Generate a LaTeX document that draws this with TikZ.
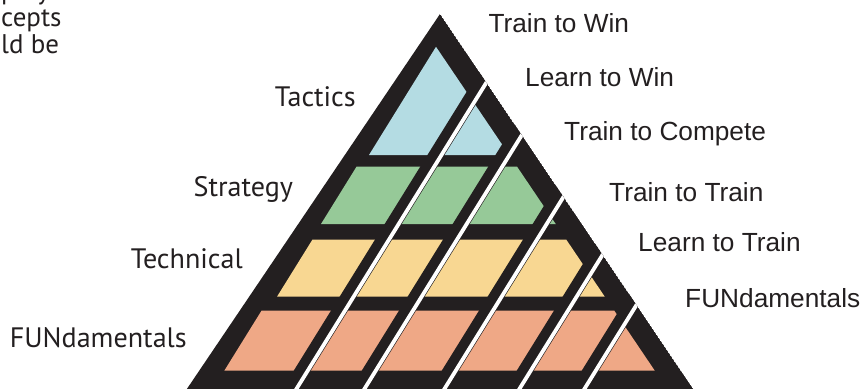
\documentclass[tikz,border=0pt]{standalone}
\usepackage{fontspec}
\setmainfont{Liberation Sans}
\newfontfamily\levelfont{PT Sans}
\usepackage{tikz}
\definecolor{pyrblack}{RGB}{35,31,32}
\definecolor{tacticsblue}{RGB}{180,220,227}
\definecolor{strategygreen}{RGB}{150,201,152}
\definecolor{technicalyellow}{RGB}{248,215,146}
\definecolor{fundorange}{RGB}{239,168,134}

\begin{document}
\begin{tikzpicture}[x=0.03cm, y=-0.03cm,
        stagelabel/.style={anchor=base west, inner sep=0pt, text=pyrblack, font=\fontsize{22.4}{26}\selectfont},
        levellabel/.style={anchor=base east, inner sep=0pt, text=pyrblack, font=\levelfont\fontsize{24}{28}\selectfont},
        introline/.style={anchor=base west, inner sep=0pt, text=pyrblack, font=\levelfont\fontsize{23}{27}\selectfont}]
        \useasboundingbox (0,0) rectangle (863,388);
        \clip (0,0) rectangle (863,388);
        \begin{scope}
            \clip (440,14) -- (700.55,400) -- (179.45,400) -- cycle;
            \fill[pyrblack] (440,14) -- (700.55,400) -- (179.45,400) -- cycle;
            \fill[tacticsblue] (436,46.8) -- (509.2,155) -- (369,155) -- cycle;
            \fill[strategygreen] (356.5,166.7) -- (517.1,166.7) -- (555.75,224) -- (321,224) -- cycle;
            \fill[technicalyellow] (312.5,239.5) -- (566.2,239.5) -- (604.8,296.7) -- (277,296.7) -- cycle;
            \fill[fundorange] (261.5,310.7) -- (614.3,310.7) -- (654.8,370.7) -- (224.3,370.7) -- cycle;
            \foreach \b in {297,365,445,520,585} {
                \fill[pyrblack] ({\b-14-7.44},400) -- ({\b+3-7.44},400) -- ({\b+3+240.56},0) -- ({\b-14+240.56},0) -- cycle;
                \fill[white] ({\b-2.25-7.44},400) -- ({\b+2.25-7.44},400) -- ({\b+2.25+240.56},0) -- ({\b-2.25+240.56},0) -- cycle;
            }
        \end{scope}
        \node[introline] (intro1) at (1,-0.5) {play};
        \node[introline] (intro2) at (1,26.7) {cepts};
        \node[introline] (intro3) at (1,53.3) {ld be};
        \node[levellabel] (tactics) at (356,106) {Tactics};
        \node[levellabel] (strategy) at (293.3,196.7) {Strategy};
        \node[levellabel] (technical) at (243,268) {Technical};
        \node[levellabel] (fundamentals) at (187,347) {FUNdamentals};
        \node[stagelabel] (ttwin) at (488.3,32.3) {Train to Win};
        \node[stagelabel] (ltwin) at (525,86) {Learn to Win};
        \node[stagelabel] (ttcompete) at (564,140.7) {Train to Compete};
        \node[stagelabel] (tttrain) at (609,201.5) {Train to Train};
        \node[stagelabel] (lttrain) at (638,251.5) {Learn to Train};
        \node[stagelabel] (ltfund) at (685,307.5) {FUNdamentals};
    \end{tikzpicture}
\end{document}
